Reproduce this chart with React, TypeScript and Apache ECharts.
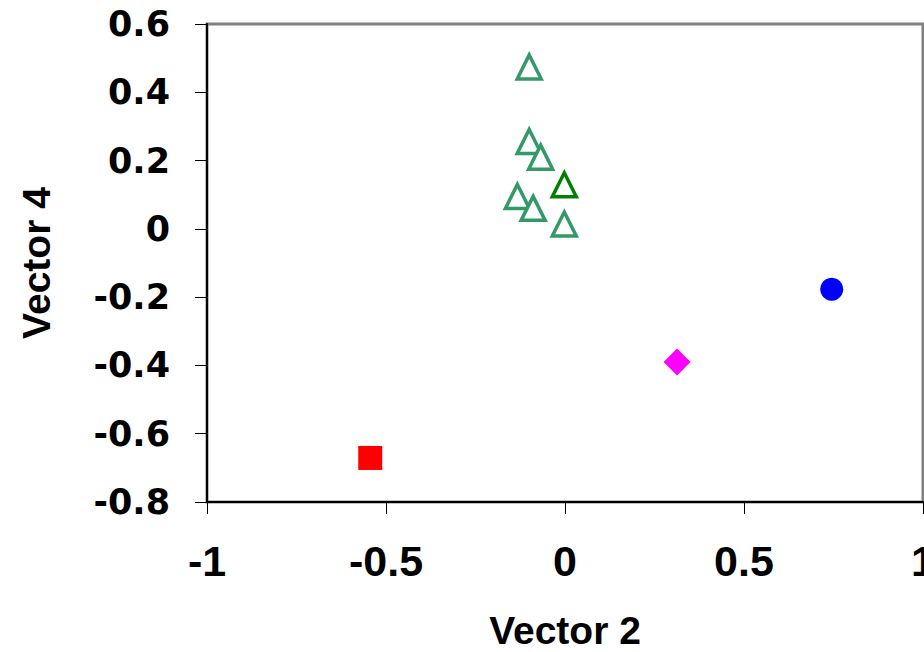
import React, { useEffect, useRef } from "react";
import * as echarts from "echarts";

const triangleX = [-0.1, -0.1, -0.068, -0.133, -0.089, -0.002];
const triangleY = [0.474, 0.256, 0.21, 0.095, 0.06, 0.014];
const darkTriangle = [-0.002, 0.129];
const circlePoint = [0.745, -0.177];
const diamondPoint = [0.313, -0.39];
const squarePoint = [-0.544, -0.671];

const xTicks = { min: -1, max: 1, interval: 0.5 };
const yTicks = { min: -0.8, max: 0.6, interval: 0.2 };

const fmt = (v: number) => {
  const r = Math.round(v * 10) / 10;
  return r === 0 ? "0" : String(r);
};

export default function App() {
  const ref = useRef<HTMLDivElement>(null);
  useEffect(() => {
    if (!ref.current) return;
    const chart = echarts.init(ref.current, null, { renderer: "svg" });
    const triData = triangleX.map((x, i) => [x, triangleY[i]]);
    chart.setOption({
      animation: false,
      backgroundColor: "#ffffff",
      grid: {
        left: 207,
        top: 24,
        right: 1,
        bottom: 150,
        containLabel: false,
        outerBoundsMode: "none",
        show: true,
        borderColor: "#808080",
        borderWidth: 3,
        backgroundColor: "transparent",
      },
      xAxis: {
        type: "value",
        min: xTicks.min,
        max: xTicks.max,
        interval: xTicks.interval,
        name: "Vector 2",
        nameLocation: "middle",
        nameGap: 109,
        nameTextStyle: {
          fontFamily: "Liberation Sans",
          fontWeight: "bold",
          fontSize: 39,
          color: "#000",
        },
        splitLine: { show: false },
        axisLine: { show: true, onZero: false, lineStyle: { color: "#000", width: 2 } },
        axisTick: { show: true, length: 12, lineStyle: { color: "#000", width: 1 } },
        axisLabel: {
          margin: 37,
          fontFamily: "Liberation Sans",
          fontWeight: "bold",
          fontSize: 43,
          color: "#000",
          formatter: fmt,
        },
      },
      yAxis: {
        type: "value",
        min: yTicks.min,
        max: yTicks.max,
        interval: yTicks.interval,
        name: "Vector 4",
        nameLocation: "middle",
        nameGap: 151,
        nameRotate: 90,
        nameTextStyle: {
          fontFamily: "Liberation Sans",
          fontWeight: "bold",
          fontSize: 39,
          color: "#000",
        },
        splitLine: { show: false },
        axisLine: { show: true, onZero: false, lineStyle: { color: "#000", width: 2 } },
        axisTick: { show: true, length: 12, lineStyle: { color: "#000", width: 1 } },
        axisLabel: {
          margin: 37,
          fontFamily: "DejaVu Sans",
          fontWeight: "bold",
          fontSize: 35,
          color: "#000",
          formatter: fmt,
        },
      },
      series: [
        {
          type: "scatter",
          data: triData,
          symbol: "triangle",
          symbolSize: 24,
          itemStyle: { color: "#ffffff", borderColor: "#339966", borderWidth: 3.5, opacity: 1 },
        },
        {
          type: "scatter",
          data: [darkTriangle],
          symbol: "triangle",
          symbolSize: 24,
          itemStyle: { color: "#ffffff", borderColor: "#008000", borderWidth: 3.5, opacity: 1 },
        },
        {
          type: "scatter",
          data: [circlePoint],
          symbol: "circle",
          symbolSize: 23,
          itemStyle: { color: "#0000ff", opacity: 1 },
        },
        {
          type: "scatter",
          data: [diamondPoint],
          symbol: "diamond",
          symbolSize: 27,
          itemStyle: { color: "#ff00ff", opacity: 1 },
        },
        {
          type: "scatter",
          data: [squarePoint],
          symbol: "rect",
          symbolSize: 24,
          itemStyle: { color: "#ff0000", opacity: 1 },
        },
      ],
    });
    return () => chart.dispose();
  }, []);
  return (
    <div
      ref={ref}
      style={{ position: "fixed", left: 0, top: 0, width: 924, height: 652, background: "#fff" }}
    />
  );
}
